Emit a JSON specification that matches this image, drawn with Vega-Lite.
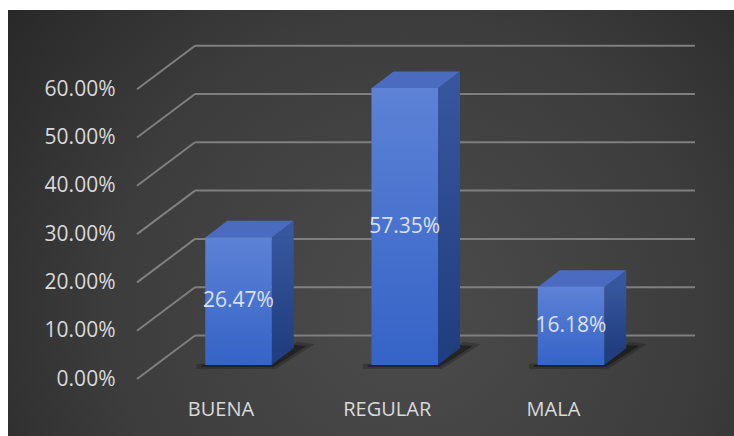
{
  "$schema": "https://vega.github.io/schema/vega-lite/v6.json",
  "width": 726,
  "height": 426,
  "autosize": {"type": "none"},
  "padding": {"left": 8, "top": 10, "right": 0, "bottom": 0},
  "background": "#ffffff",
  "config": {"view": {"stroke": null}, "font": "Open Sans"},
  "data": {"values": [
    {"category": "BUENA", "value": 0.2647},
    {"category": "REGULAR", "value": 0.5735},
    {"category": "MALA", "value": 0.1618}
  ]},
  "resolve": {"scale": {"x": "independent", "y": "independent"}, "axis": {"x": "independent", "y": "independent"}},
  "layer": [
    {
      "data": {"values": [{}]},
      "mark": {"type": "rect", "fill": {"gradient": "radial", "x1": 0.55, "y1": 0.62, "r1": 0, "x2": 0.55, "y2": 0.62, "r2": 0.75,
        "stops": [{"offset": 0, "color": "#4c4c4c"}, {"offset": 0.55, "color": "#3c3c3c"}, {"offset": 1, "color": "#242424"}]}},
      "encoding": {
        "x": {"datum": 0, "type": "quantitative", "scale": {"domain": [0, 1], "nice": false, "zero": false}, "axis": null},
        "x2": {"datum": 1},
        "y": {"datum": -0.11801, "type": "quantitative", "scale": {"domain": [-0.11801, 0.76398], "nice": false, "zero": false}, "axis": null},
        "y2": {"datum": 0.76398}
      }
    },
    {
      "data": {"values": [{"t": 0}, {"t": 0.1}, {"t": 0.2}, {"t": 0.3}, {"t": 0.4}, {"t": 0.5}, {"t": 0.6}]},
      "mark": {"type": "rule", "stroke": "#7f7f7f", "strokeWidth": 2, "yOffset": -43.5},
      "encoding": {
        "x": {"datum": 0.2576, "type": "quantitative", "scale": {"domain": [0, 1], "nice": false, "zero": false}, "axis": null},
        "x2": {"datum": 0.9463},
        "y": {"field": "t", "type": "quantitative", "scale": {"domain": [-0.11801, 0.76398], "nice": false, "zero": false},
          "axis": {"values": [0, 0.1, 0.2, 0.3, 0.4, 0.5, 0.6], "format": ".2%", "title": null, "offset": -129, "labelPadding": 22, "zindex": 2,
            "ticks": false, "domain": false, "grid": false, "labelFontSize": 21, "labelColor": "#d9d9d9", "labelFont": "Open Sans"}}
      }
    },
    {
      "data": {"values": [{"t": 0}, {"t": 0.1}, {"t": 0.2}, {"t": 0.3}, {"t": 0.4}, {"t": 0.5}, {"t": 0.6}]},
      "mark": {"type": "rule", "stroke": "#7f7f7f", "strokeWidth": 2, "y2Offset": -43.5},
      "encoding": {
        "x": {"datum": 0.1777, "type": "quantitative", "scale": {"domain": [0, 1], "nice": false, "zero": false}, "axis": null},
        "x2": {"datum": 0.2576},
        "y": {"field": "t", "type": "quantitative", "scale": {"domain": [-0.11801, 0.76398], "nice": false, "zero": false}, "axis": null},
        "y2": {"field": "t"}
      }
    },
    {
      "mark": {"type": "point", "shape": "M -42 4 L 37 4 L 76 -21 L 58 -23 L 33 -5 L -42 -1 Z", "size": 4, "filled": true, "fill": "#000000", "opacity": 0.22, "strokeWidth": 0, "yOffset": -14},
      "encoding": {
        "x": {"field": "category", "type": "nominal", "sort": null, "scale": {"domain": ["BUENA", "REGULAR", "MALA"], "range": [147.4, 646.1], "paddingInner": 0.6, "paddingOuter": 0.3}, "axis": null},
        "y": {"datum": 0, "type": "quantitative", "scale": {"domain": [-0.11801, 0.76398], "nice": false, "zero": false}, "axis": null}
      }
    },
    {
      "mark": {"type": "point", "shape": "M -37 2 L 35 2 L 68 -19 L 56 -20 L 33 -5 L -37 0 Z", "size": 4, "filled": true, "fill": "#000000", "opacity": 0.35, "strokeWidth": 0, "yOffset": -14},
      "encoding": {
        "x": {"field": "category", "type": "nominal", "sort": null, "scale": {"domain": ["BUENA", "REGULAR", "MALA"], "range": [147.4, 646.1], "paddingInner": 0.6, "paddingOuter": 0.3}, "axis": null},
        "y": {"datum": 0, "type": "quantitative", "scale": {"domain": [-0.11801, 0.76398], "nice": false, "zero": false}, "axis": null}
      }
    },
    {
      "mark": {"type": "bar", "width": 22, "xOffset": 44.25, "yOffset": -14, "y2Offset": -30.5,
        "fill": {"gradient": "linear", "x1": 0, "y1": 0, "x2": 0, "y2": 1, "stops": [{"offset": 0, "color": "#36569d"}, {"offset": 1, "color": "#213e80"}]}},
      "encoding": {
        "x": {"field": "category", "type": "nominal", "sort": null, "scale": {"domain": ["BUENA", "REGULAR", "MALA"], "range": [147.4, 646.1], "paddingInner": 0.6, "paddingOuter": 0.3}, "axis": null},
        "y": {"field": "value", "type": "quantitative", "scale": {"domain": [-0.11801, 0.76398], "nice": false, "zero": false}, "axis": null},
        "y2": {"datum": 0}
      }
    },
    {
      "mark": {"type": "point", "shape": "M 33 0.3 L 55.25 -16.5 L 55.25 0.3 Z", "size": 4, "filled": true, "fill": "#36569d", "opacity": 1, "strokeWidth": 0, "yOffset": -14},
      "encoding": {
        "x": {"field": "category", "type": "nominal", "sort": null, "scale": {"domain": ["BUENA", "REGULAR", "MALA"], "range": [147.4, 646.1], "paddingInner": 0.6, "paddingOuter": 0.3}, "axis": null},
        "y": {"field": "value", "type": "quantitative", "scale": {"domain": [-0.11801, 0.76398], "nice": false, "zero": false}, "axis": null}
      }
    },
    {
      "mark": {"type": "point", "shape": "M 33 -16.8 L 55.25 -16.8 L 33 0 Z", "size": 4, "filled": true, "fill": "#213e80", "opacity": 1, "strokeWidth": 0, "yOffset": -14},
      "encoding": {
        "x": {"field": "category", "type": "nominal", "sort": null, "scale": {"domain": ["BUENA", "REGULAR", "MALA"], "range": [147.4, 646.1], "paddingInner": 0.6, "paddingOuter": 0.3}, "axis": null},
        "y": {"datum": 0, "type": "quantitative", "scale": {"domain": [-0.11801, 0.76398], "nice": false, "zero": false}, "axis": null}
      }
    },
    {
      "mark": {"type": "point", "shape": "M -33.25 0.3 L 33.25 0.3 L 55.25 -16.5 L -11.25 -16.5 Z", "size": 4, "filled": true, "fill": "#4a6bbf", "opacity": 1, "strokeWidth": 0, "yOffset": -14},
      "encoding": {
        "x": {"field": "category", "type": "nominal", "sort": null, "scale": {"domain": ["BUENA", "REGULAR", "MALA"], "range": [147.4, 646.1], "paddingInner": 0.6, "paddingOuter": 0.3}, "axis": null},
        "y": {"field": "value", "type": "quantitative", "scale": {"domain": [-0.11801, 0.76398], "nice": false, "zero": false}, "axis": null}
      }
    },
    {
      "mark": {"type": "bar", "yOffset": -14, "y2Offset": -14,
        "fill": {"gradient": "linear", "x1": 0, "y1": 0, "x2": 0, "y2": 1, "stops": [{"offset": 0, "color": "#5d82d6"}, {"offset": 1, "color": "#3563c7"}]}},
      "encoding": {
        "x": {"field": "category", "type": "nominal", "sort": null, "scale": {"domain": ["BUENA", "REGULAR", "MALA"], "range": [147.4, 646.1], "paddingInner": 0.6, "paddingOuter": 0.3},
          "axis": {"title": null, "labelAngle": 0, "labelOffset": -17.5, "offset": -37, "labelPadding": 0, "ticks": false, "domain": false, "grid": false, "zindex": 2,
            "labelFontSize": 20, "labelColor": "#d9d9d9", "labelFont": "Open Sans"}},
        "y": {"field": "value", "type": "quantitative", "scale": {"domain": [-0.11801, 0.76398], "nice": false, "zero": false}, "axis": null},
        "y2": {"datum": 0}
      }
    },
    {
      "mark": {"type": "text", "fontSize": 21, "font": "Open Sans", "fill": "#dde0e8", "baseline": "middle", "align": "center", "yOffset": -14},
      "encoding": {
        "x": {"field": "category", "type": "nominal", "sort": null, "scale": {"domain": ["BUENA", "REGULAR", "MALA"], "range": [147.4, 646.1], "paddingInner": 0.6, "paddingOuter": 0.3}, "axis": null},
        "y": {"field": "value", "type": "quantitative", "scale": {"domain": [-0.23602, 1.52796], "nice": false, "zero": false}, "axis": null},
        "text": {"field": "value", "type": "quantitative", "format": ".2%"}
      }
    }
  ]
}
